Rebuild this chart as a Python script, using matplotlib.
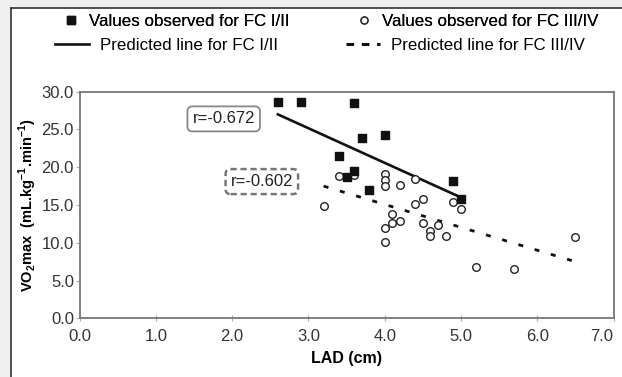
import matplotlib.pyplot as plt
from matplotlib.lines import Line2D

# Data
fc12_x = [2.6, 2.9, 3.6, 3.7, 4.0, 3.4, 3.5, 3.6, 3.8, 4.9, 5.0]
fc12_y = [28.6, 28.6, 28.5, 23.9, 24.3, 21.5, 18.7, 19.5, 17.0, 18.2, 15.8]

fc34_x = [3.2, 3.4, 3.6, 4.0, 4.0, 4.0, 4.2, 4.4, 4.5, 4.4, 4.1, 4.1, 4.2,
          4.0, 4.0, 4.5, 4.6, 4.6, 4.7, 4.8, 4.9, 5.0, 5.2, 5.7, 6.5]
fc34_y = [14.9, 18.8, 19.0, 19.1, 18.3, 17.5, 17.7, 18.4, 15.8, 15.1, 13.8, 12.6, 12.9,
          12.0, 10.1, 12.6, 11.6, 10.9, 12.3, 10.9, 15.4, 14.5, 6.8, 6.5, 10.7]

fc12_line_x = [2.6, 5.0]
fc12_line_y = [27.0, 16.0]
fc34_line_x = [3.2, 6.5]
fc34_line_y = [17.5, 7.5]

r_labels = ["r=-0.672", "r=-0.602"]
r_pos = [(1.89, 26.4), (2.39, 18.1)]

x_ticks = [0, 1, 2, 3, 4, 5, 6, 7]
y_ticks = [0, 5, 10, 15, 20, 25, 30]

font = "Liberation Sans"
plt.rcParams["font.family"] = font
plt.rcParams["mathtext.fontset"] = "custom"
plt.rcParams["mathtext.bf"] = "Liberation Sans:bold"
plt.rcParams["mathtext.rm"] = "Liberation Sans"

fig = plt.figure(figsize=(6.22, 3.77), dpi=100, facecolor="#efefef")

# white panel with frame on top/left
panel = fig.add_axes([11 / 622, 0, 1 - 11 / 622, 1 - 7.5 / 377])
panel.set_facecolor("white")
panel.set_xticks([])
panel.set_yticks([])
for s in ["right", "bottom"]:
    panel.spines[s].set_visible(False)
for s in ["top", "left"]:
    panel.spines[s].set_color("#333333")
    panel.spines[s].set_linewidth(1.2)

ax = fig.add_axes([79.5 / 622, 1 - 318.3 / 377, (613.5 - 79.5) / 622, (318.3 - 91.7) / 377])
ax.set_facecolor("white")

ax.plot(fc12_line_x, fc12_line_y, color="#111111", lw=1.9, zorder=2)
ax.plot(fc34_line_x, fc34_line_y, color="#111111", lw=2.0, dashes=(1.8, 4.3), zorder=2)
ax.scatter(fc34_x, fc34_y, marker="o", s=30, facecolor="white", edgecolor="#222222",
           linewidths=1.0, zorder=3)
ax.scatter(fc12_x, fc12_y, marker="s", s=34, color="#111111", zorder=4)

ax.text(*r_pos[0], r_labels[0], ha="center", va="center", fontsize=12, color="#222222",
        bbox=dict(boxstyle="round,pad=0.3", fc="white", ec="#888888", lw=1.3))
ax.text(*r_pos[1], r_labels[1], ha="center", va="center", fontsize=12, color="#222222",
        bbox=dict(boxstyle="round,pad=0.3", fc="white", ec="#777777", lw=1.8, ls=(0, (2.5, 1.5))))

ax.set_xlim(0, 7)
ax.set_ylim(0, 30)
ax.set_xticks(x_ticks)
ax.set_xticklabels([f"{v:.1f}" for v in x_ticks], fontsize=12, color="#333333")
ax.get_xticklabels()[-1].set_horizontalalignment("right")
ax.set_yticks(y_ticks)
ax.set_yticklabels([f"{v:.1f}" for v in y_ticks], fontsize=12, color="#333333")
ax.tick_params(axis="x", direction="inout", length=5, color="#aaaaaa", pad=5)
ax.tick_params(axis="y", direction="out", length=3, color="#aaaaaa", pad=1)
for s in ax.spines.values():
    s.set_color("#777777")
    s.set_linewidth(1.3)

ax.set_xlabel("LAD (cm)", fontweight="bold", fontsize=11.5, labelpad=5)
ax.set_ylabel(r"VO$_\mathbf{2}$max  (mL.kg$^\mathbf{-1}$.min$^\mathbf{-1}$)",
              fontweight="bold", fontsize=10.5, labelpad=2)

# legend, one row each
h_sq = Line2D([], [], marker="s", ls="none", color="#111111", markersize=5.5)
h_ci = Line2D([], [], marker="o", ls="none", mfc="white", mec="#222222", markersize=5)
h_ln = Line2D([], [], color="#111111", lw=1.9)
h_dh = Line2D([], [], color="#111111", lw=2.2, dashes=(2.5, 2.5))
leg1 = fig.legend([h_sq, h_ci], ["Values observed for FC I/II", "Values observed for FC III/IV"],
                  loc="center", bbox_to_anchor=(330 / 622, 1 - 21 / 377), ncol=2, frameon=False,
                  prop=dict(size=12.2), columnspacing=3.8, handlelength=1.1,
                  handletextpad=0.55)
fig.add_artist(leg1)
fig.legend([h_ln, h_dh], ["Predicted line for FC I/II", "Predicted line for FC III/IV"],
           loc="center", bbox_to_anchor=(320 / 622, 1 - 45 / 377), ncol=2, frameon=False,
           prop=dict(size=12.2), columnspacing=4.0, handlelength=2.0,
           handletextpad=0.65)

fig.savefig("out.png", dpi=100, facecolor=fig.get_facecolor())
